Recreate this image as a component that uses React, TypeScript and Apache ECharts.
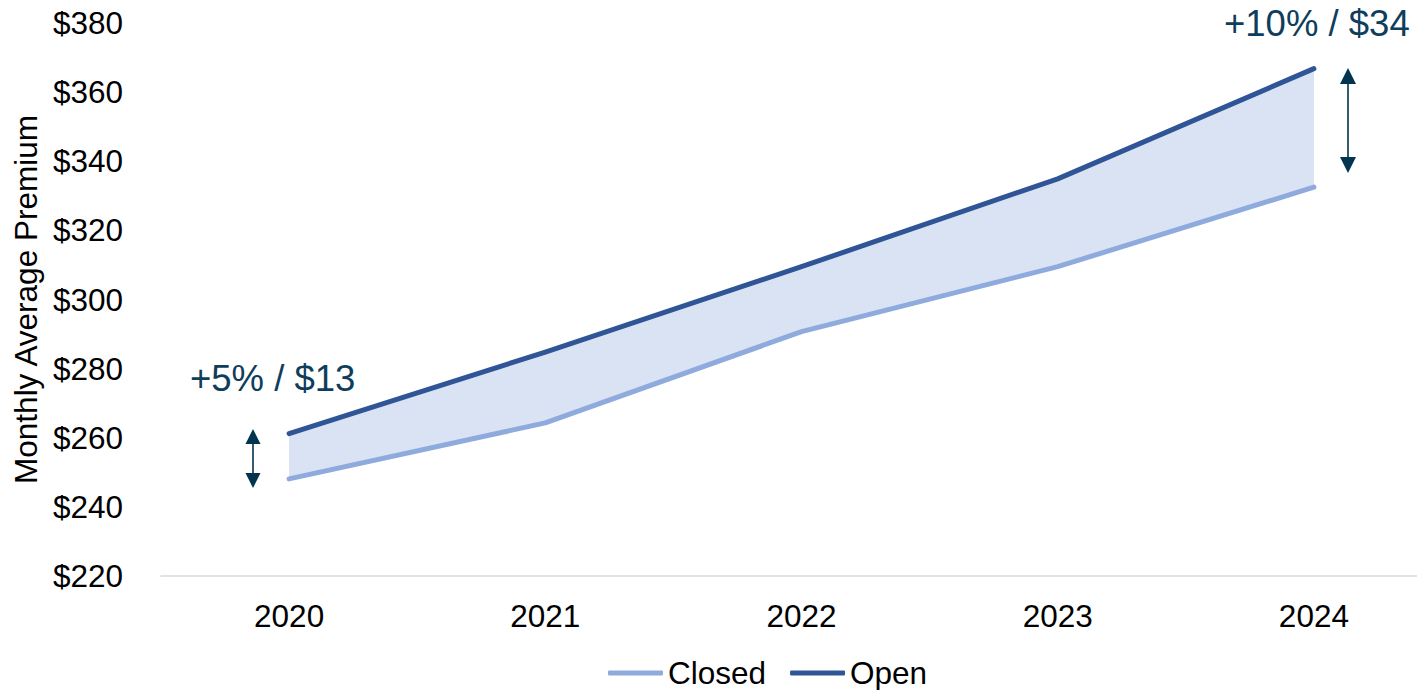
import React, { useEffect, useRef } from "react";
import * as echarts from "echarts";

// Monthly average premium by year
const years = ["2020", "2021", "2022", "2023", "2024"];
const closedPremium = [248.1, 264.3, 290.7, 309.5, 332.5];
const openPremium = [261.2, 284.8, 309.5, 334.9, 366.8];
const yTicks = { min: 220, max: 380, interval: 20 };

const FONT = "'Liberation Sans', Arial, Helvetica, sans-serif";
const CLOSED_COLOR = "#8FAADC";
const OPEN_COLOR = "#2F5597";
const BAND_COLOR = "#DAE3F3";
const NOTE_COLOR = "#0F3D5C";
const ARROW_COLOR = "#00344F";

// Double-headed vertical arrow drawn with graphic primitives
function doubleArrow(x: number, top: number, bottom: number, head: number) {
  const hw = head / 2;
  return {
    type: "group",
    children: [
      {
        type: "line",
        shape: { x1: x, y1: top + head - 2, x2: x, y2: bottom - head + 2 },
        style: { stroke: ARROW_COLOR, lineWidth: 1.6 },
      },
      {
        type: "polygon",
        shape: { points: [[x, top], [x - hw, top + head], [x + hw, top + head]] },
        style: { fill: ARROW_COLOR },
      },
      {
        type: "polygon",
        shape: { points: [[x, bottom], [x - hw, bottom - head], [x + hw, bottom - head]] },
        style: { fill: ARROW_COLOR },
      },
    ],
  };
}

export default function App() {
  const ref = useRef<HTMLDivElement>(null);

  useEffect(() => {
    if (!ref.current) return;
    const chart = echarts.init(ref.current, undefined, { renderer: "svg" });
    const gap = openPremium.map((v, i) => +(v - closedPremium[i]).toFixed(2));

    chart.setOption({
      animation: false,
      backgroundColor: "#ffffff",
      textStyle: { fontFamily: FONT },
      // plot area runs past the right edge, so the last band is clipped
      grid: {
        left: 161,
        width: 1281,
        top: 23,
        bottom: 114,
        containLabel: false,
        outerBoundsMode: "none",
      },
      legend: {
        data: ["Closed", "Open"],
        left: 608,
        top: 657,
        padding: 0,
        icon: "roundRect",
        itemWidth: 55,
        itemHeight: 5,
        itemGap: 24,
        textStyle: { fontSize: 31.5, color: "#000", fontFamily: FONT },
      },
      xAxis: {
        type: "category",
        data: years,
        boundaryGap: true,
        axisLine: { lineStyle: { color: "#D9D9D9", width: 1.7 } },
        axisTick: { show: false },
        axisLabel: { fontSize: 31.5, color: "#000", margin: 24, fontFamily: FONT },
      },
      yAxis: {
        type: "value",
        min: yTicks.min,
        max: yTicks.max,
        interval: yTicks.interval,
        name: "Monthly Average Premium",
        nameLocation: "middle",
        nameGap: 115,
        nameTextStyle: { fontSize: 31.5, color: "#000", fontFamily: FONT },
        axisLine: { show: false },
        axisTick: { show: false },
        splitLine: { show: false },
        axisLabel: {
          fontSize: 31.5,
          color: "#000",
          margin: 38,
          fontFamily: FONT,
          formatter: (v: number) => "$" + v,
        },
      },
      series: [
        {
          name: "base",
          type: "line",
          stack: "band",
          data: closedPremium,
          symbol: "none",
          lineStyle: { opacity: 0 },
          silent: true,
          z: 1,
        },
        {
          name: "gap",
          type: "line",
          stack: "band",
          data: gap,
          symbol: "none",
          lineStyle: { opacity: 0 },
          areaStyle: { color: BAND_COLOR, opacity: 1 },
          silent: true,
          z: 1,
        },
        {
          name: "Closed",
          type: "line",
          data: closedPremium,
          symbol: "none",
          color: CLOSED_COLOR,
          lineStyle: { color: CLOSED_COLOR, width: 5, cap: "round", join: "round" },
          z: 3,
        },
        {
          name: "Open",
          type: "line",
          data: openPremium,
          symbol: "none",
          color: OPEN_COLOR,
          lineStyle: { color: OPEN_COLOR, width: 5, cap: "round", join: "round" },
          z: 4,
        },
      ],
      graphic: [
        {
          type: "text",
          x: 190,
          y: 378,
          style: {
            text: "+5% / $13",
            fontSize: 36.5,
            fill: NOTE_COLOR,
            fontFamily: FONT,
            verticalAlign: "middle",
          },
        },
        {
          type: "text",
          x: 1224,
          y: 23,
          style: {
            text: "+10% / $34",
            fontSize: 36.5,
            fill: NOTE_COLOR,
            fontFamily: FONT,
            verticalAlign: "middle",
          },
        },
        doubleArrow(253, 429, 488, 15),
        doubleArrow(1348, 68, 173, 16),
      ],
    });

    return () => chart.dispose();
  }, []);

  return (
    <div
      ref={ref}
      style={{ position: "absolute", left: 0, top: 0, width: 1417, height: 690 }}
    />
  );
}
